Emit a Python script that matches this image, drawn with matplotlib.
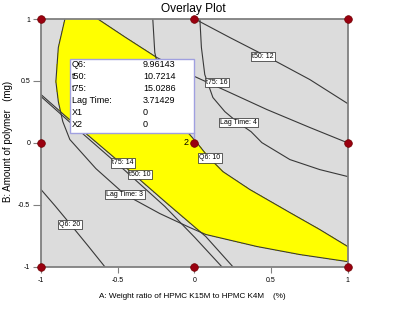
import numpy as np
import matplotlib
matplotlib.use("Agg")
import matplotlib.pyplot as plt
from matplotlib.patches import Rectangle

FONT = ["Liberation Sans Narrow", "Liberation Sans", "DejaVu Sans"]
plt.rcParams["font.family"] = FONT

# ---------------- data ----------------
# contour lines (x1 = A, x2 = B), points ordered from top to bottom
lag3_x = [-0.844, -0.887, -0.903, -0.887, -0.858, -0.812, -0.642, -0.453, -0.225, -0.029, 0.075, 0.408, 0.688, 1.0]
lag3_y = [1.0, 0.770, 0.495, 0.333, 0.172, 0.027, -0.208, -0.417, -0.571, -0.684, -0.740, -0.837, -0.902, -0.959]

lag4_x = [0.036, 0.046, 0.068, 0.121, 0.199, 0.284, 0.370, 0.440, 0.623, 0.818, 1.0]
lag4_y = [1.0, 0.770, 0.551, 0.366, 0.252, 0.164, 0.090, 0.002, -0.135, -0.216, -0.272]

q10_x = [-0.271, -0.258, -0.225, -0.173, -0.114, -0.042, 0.016, 0.088, 0.186, 0.362, 0.623, 0.818, 1.0]
q10_y = [1.0, 0.729, 0.551, 0.390, 0.229, 0.083, 0.002, -0.110, -0.232, -0.377, -0.563, -0.700, -0.837]

q20_x = [-1.0, -0.910, -0.812, -0.695, -0.584]
q20_y = [-0.377, -0.506, -0.652, -0.829, -1.0]

t75_16_x = [-0.629, -0.453, -0.245, 0.003, 0.232, 0.473, 0.753, 1.0]
t75_16_y = [1.0, 0.855, 0.689, 0.535, 0.406, 0.269, 0.124, 0.0]

t75_14_x = [-1.0, -0.714, -0.453, -0.192, 0.003, 0.179]
t75_14_y = [0.374, 0.059, -0.223, -0.514, -0.764, -1.0]

t50_12_x = [0.003, 0.232, 0.473, 0.753, 1.0]
t50_12_y = [1.0, 0.850, 0.697, 0.511, 0.317]

t50_10_x = [-1.0, -0.844, -0.714, -0.453, -0.192, 0.075, 0.251]
t50_10_y = [0.390, 0.220, 0.083, -0.192, -0.474, -0.757, -1.0]

# contour labels
label_text = ["t50: 12", "t75: 16", "Lag Time: 4", "Q6: 10", "t75: 14", "t50: 10", "Lag Time: 3", "Q6: 20"]
label_x = [0.447, 0.145, 0.286, 0.101, -0.464, -0.355, -0.453, -0.812]
label_y = [0.697, 0.489, 0.166, -0.121, -0.161, -0.256, -0.417, -0.660]

# design points
design_x = [-1, 0, 1, -1, 0, 1, -1, 0, 1]
design_y = [1, 1, 1, 0, 0, 0, -1, -1, -1]

# flag box at the centre point
flag_names = ["Q6:", "t50:", "t75:", "Lag Time:", "X1", "X2"]
flag_values = ["9.96143", "10.7214", "15.0286", "3.71429", "0", "0"]

xticks = [-1, -0.5, 0, 0.5, 1]
xtick_labels = ["-1", "-0.5", "0", "0.5", "1"]
yticks = [-1, -0.5, 0, 0.5, 1]
ytick_labels = ["-1", "-0.5", "0", "0.5", "1"]

# ---------------- figure ----------------
W, H = 400, 322
fig = plt.figure(figsize=(W / 100, H / 100), dpi=100)
ax = fig.add_axes([41 / W, 1 - 266.7 / H, (347.7 - 41) / W, (266.7 - 19) / H])
ax.set_facecolor("#dcdcdc")
ax.set_xlim(-1, 1)
ax.set_ylim(-1, 1)

# feasible (overlay) region from the contour lines
g = np.linspace(-1, 1, 801)
GX, GY = np.meshgrid(g, g)


def xc(cx, cy, below, above=np.nan):
    cx = np.asarray(cx, float)[::-1]
    cy = np.asarray(cy, float)[::-1]
    return np.interp(GY, cy, cx, left=below, right=above)


inf = np.inf
ok = (GX >= xc(lag3_x, lag3_y, inf))
ok &= (GX <= xc(lag4_x, lag4_y, inf))
ok &= (GX <= xc(q10_x, q10_y, inf))
ok &= (GX <= xc(t75_16_x, t75_16_y, inf))
ok &= (GX >= xc(t50_10_x, t50_10_y, -inf, -inf))
ok &= (GX >= xc(t75_14_x, t75_14_y, -inf, -inf))
ok &= (GX <= xc(t50_12_x, t50_12_y, inf))
ax.contourf(GX, GY, ok.astype(float), levels=[0.5, 1.5], colors=["#ffff00"], zorder=1)

lc = "#383838"
for cx, cy in [(lag3_x, lag3_y), (lag4_x, lag4_y), (q10_x, q10_y), (q20_x, q20_y),
               (t75_16_x, t75_16_y), (t75_14_x, t75_14_y), (t50_12_x, t50_12_y),
               (t50_10_x, t50_10_y)]:
    ax.plot(cx, cy, color=lc, lw=0.8, zorder=2)

for s, x, y in zip(label_text, label_x, label_y):
    ax.text(x, y, s, fontsize=5, ha="center", va="center", zorder=3,
            bbox=dict(boxstyle="square,pad=0.18", fc="white", ec="#222222", lw=0.5))

# flag box
bx0, by0 = -0.812, 0.081
ax.add_patch(Rectangle((bx0, by0), 0 - bx0, 0.681 - by0, fc="white", ec="#a0a0e0", lw=1.0, zorder=5))
ax.plot([0, 0], [by0, 0], color="#a0a0e0", lw=1.0, zorder=5)
row_y = np.linspace(0.632, 0.148, len(flag_names))
for nm, val, ry in zip(flag_names, flag_values, row_y):
    ax.text(-0.80, ry, nm, fontsize=6.5, ha="left", va="center", zorder=6)
    ax.text(-0.335, ry, val, fontsize=6.5, ha="left", va="center", zorder=6)

ax.plot(design_x, design_y, "o", color="#9a0010", ms=5.5, clip_on=False, zorder=7, mec="#700000", mew=0.5)
ax.text(-0.035, 0.0, "2", fontsize=6.5, ha="right", va="center", zorder=7)

for sp in ax.spines.values():
    sp.set_color("#808080")
    sp.set_linewidth(1.3)

ax.set_xticks(xticks)
ax.set_xticklabels(xtick_labels)
ax.set_yticks(yticks)
ax.set_yticklabels(ytick_labels)
ax.tick_params(axis="x", length=4.5, color="#808080", labelsize=5, pad=3)
ax.tick_params(axis="y", length=5.8, color="#808080", labelsize=5, pad=2)

fig.text(193.5 / W, 1 - 9 / H, "Overlay Plot", fontsize=8.6, ha="center", va="center")
fig.text(192.5 / W, 1 - 296 / H, "A: Weight ratio of HPMC K15M to HPMC K4M    (%)",
         fontsize=5.9, ha="center", va="center")
fig.text(8 / W, 1 - 141 / H, "B: Amount of polymer   (mg)", fontsize=7,
         ha="center", va="center", rotation=90)

fig.savefig("out.png", dpi=100, facecolor="white")
